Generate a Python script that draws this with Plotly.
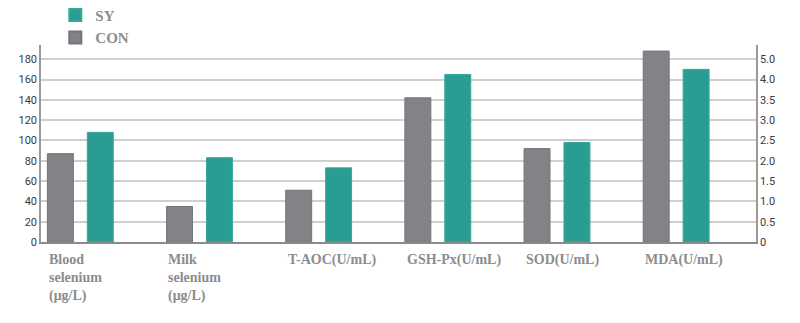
import plotly.graph_objects as go

categories = ["Blood<br>selenium<br>(μg/L)", "Milk<br>selenium<br>(μg/L)", "T-AOC(U/mL)",
              "GSH-Px(U/mL)", "SOD(U/mL)", "MDA(U/mL)"]
con_values = [87, 35, 51, 142, 92, 188]
sy_values = [108, 83, 73, 165, 98, 170]
left_ticks = [0, 20, 40, 60, 80, 100, 120, 140, 160, 180]
right_tick_labels = ["0", "0.5", "1.0", "1.5", "2.0", "2.5", "3.0", "3.5", "4.0", "5.0"]

GRAY = "#818386"
TEAL = "#2a9d92"
LABEL_COLOR = "#8c8c8c"

fig = go.Figure()
fig.add_trace(go.Bar(x=categories, y=con_values, name="<b>CON</b>",
                     marker=dict(color=GRAY, line=dict(color="#737578", width=1))))
fig.add_trace(go.Bar(x=categories, y=sy_values, name="<b>SY</b>",
                     marker=dict(color=TEAL, line=dict(color="#35a89c", width=1))))
# invisible helper so the right-hand axis is drawn
fig.add_trace(go.Scatter(x=categories, y=con_values, yaxis="y2", mode="markers",
                         marker=dict(opacity=0), showlegend=False, hoverinfo="skip"))

# left-aligned category labels under each group
for cat in categories:
    fig.add_annotation(x=cat, y=0, xref="x", yref="paper", yanchor="top", xanchor="left",
                       align="left", xshift=-33, yshift=-8, showarrow=False, text=f"<b>{cat}</b>",
                       font=dict(family="Liberation Serif", size=14, color=LABEL_COLOR))

fig.update_layout(
    width=800, height=323,
    margin=dict(l=41, r=44, t=45, b=81, autoexpand=False),
    plot_bgcolor="white", paper_bgcolor="white",
    barmode="group", bargap=0.33, bargroupgap=0.35,
    showlegend=True,
    legend=dict(x=0.02, y=1.235, xanchor="left", yanchor="top", traceorder="reversed",
                font=dict(family="Liberation Serif", size=15, color=LABEL_COLOR),
                itemsizing="constant"),
    xaxis=dict(type="category", range=[-0.33, 5.67], showgrid=False,
               showline=True, linecolor="#8a8a8a", linewidth=2,
               showticklabels=False, ticks=""),
    yaxis=dict(range=[0, 194], tickvals=left_ticks, showgrid=True,
               gridcolor="#cfcfcf", gridwidth=1.5, showline=True,
               linecolor="#9a9a9a", linewidth=1.5, zeroline=False,
               tickfont=dict(family="Roboto", size=11, color="#3a3a3a"),
               ticks=""),
    yaxis2=dict(overlaying="y", side="right", range=[0, 194], tickvals=left_ticks,
                ticktext=right_tick_labels, showgrid=False, showline=True,
                linecolor="#9a9a9a", linewidth=1.5, zeroline=False,
                tickfont=dict(family="Roboto", size=11, color="#3a3a3a"),
                ticks=""),
)

fig.write_html("out.html")
